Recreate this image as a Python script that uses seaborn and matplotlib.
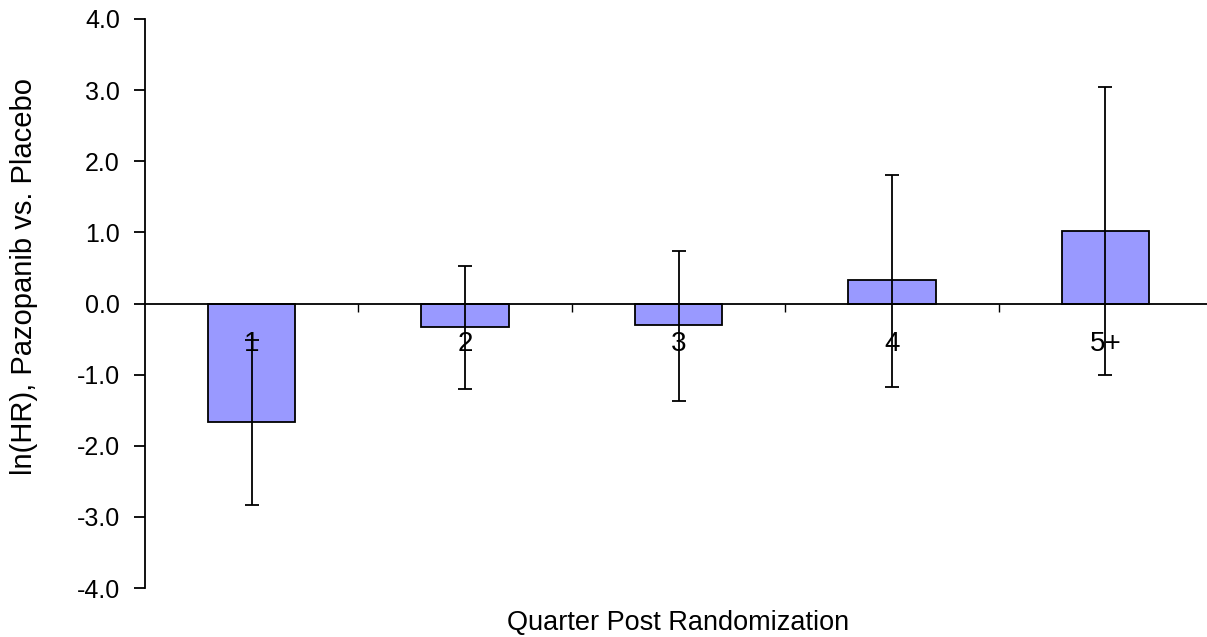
import matplotlib
matplotlib.use("Agg")
import matplotlib.pyplot as plt
import seaborn as sns
import pandas as pd
from matplotlib.ticker import FixedLocator, FormatStrFormatter

# Log hazard ratio by quarter after randomization, with 95% CI bounds
quarters = ["1", "2", "3", "4", "5+"]
ln_hr = [-1.67, -0.33, -0.30, 0.33, 1.02]
ci_lower = [-2.83, -1.20, -1.37, -1.17, -1.00]
ci_upper = [-0.51, 0.53, 0.74, 1.81, 3.05]

df = pd.DataFrame({"quarter": quarters, "ln_hr": ln_hr})

sns.set_style("white")
plt.rcParams["font.family"] = ["Liberation Sans", "DejaVu Sans"]
plt.rcParams["axes.unicode_minus"] = False

fig = plt.figure(figsize=(12.07, 6.37), dpi=100)
ax = fig.add_axes([145 / 1207, 49 / 637, 1067 / 1207, 569 / 637])
ax.set_axisbelow(False)

sns.barplot(data=df, x="quarter", y="ln_hr", ax=ax, width=0.41,
            color="#9999FF", edgecolor="black", linewidth=1.3,
            saturation=1, errorbar=None, zorder=1)

xpos = range(len(quarters))
yerr = [[v - lo for v, lo in zip(ln_hr, ci_lower)],
        [hi - v for v, hi in zip(ln_hr, ci_upper)]]
ax.errorbar(xpos, ln_hr, yerr=yerr, fmt="none", ecolor="black",
            elinewidth=1.3, capsize=5, capthick=1.3, zorder=4)

ax.set_xlim(-0.5, len(quarters) - 0.5)
ax.set_ylim(-4, 4)
ax.set_yticks([-4, -3, -2, -1, 0, 1, 2, 3, 4])
ax.yaxis.set_major_formatter(FormatStrFormatter("%.1f"))
ax.tick_params(axis="y", which="major", left=True, length=8, width=1.3,
               pad=10, labelsize=18, color="black", labelcolor="black")

# x axis runs along zero: boundary ticks, category labels centred below
ax.spines["bottom"].set_position(("data", 0))
ax.xaxis.set_major_locator(FixedLocator([0.5, 1.5, 2.5, 3.5]))
ax.xaxis.set_minor_locator(FixedLocator(list(xpos)))
ax.xaxis.set_major_formatter(plt.NullFormatter())
ax.xaxis.set_minor_formatter(plt.FixedFormatter(quarters))
ax.tick_params(axis="x", which="major", bottom=True, length=6, width=1,
               color="black")
ax.tick_params(axis="x", which="minor", bottom=True, length=0, pad=20,
               labelsize=20, labelcolor="black")

for side in ("top", "right"):
    ax.spines[side].set_visible(False)
for side in ("left", "bottom"):
    ax.spines[side].set_color("black")
    ax.spines[side].set_linewidth(1.3)
    ax.spines[side].set_zorder(3)

ax.set_xlabel("Quarter Post Randomization", fontsize=19.5, color="black")
ax.xaxis.set_label_coords(0.5, -0.039)
ax.set_ylabel("ln(HR), Pazopanib vs. Placebo", fontsize=21, color="black")
ax.yaxis.set_label_coords(-0.100, 0.548)

fig.savefig("out.png", dpi=100)
